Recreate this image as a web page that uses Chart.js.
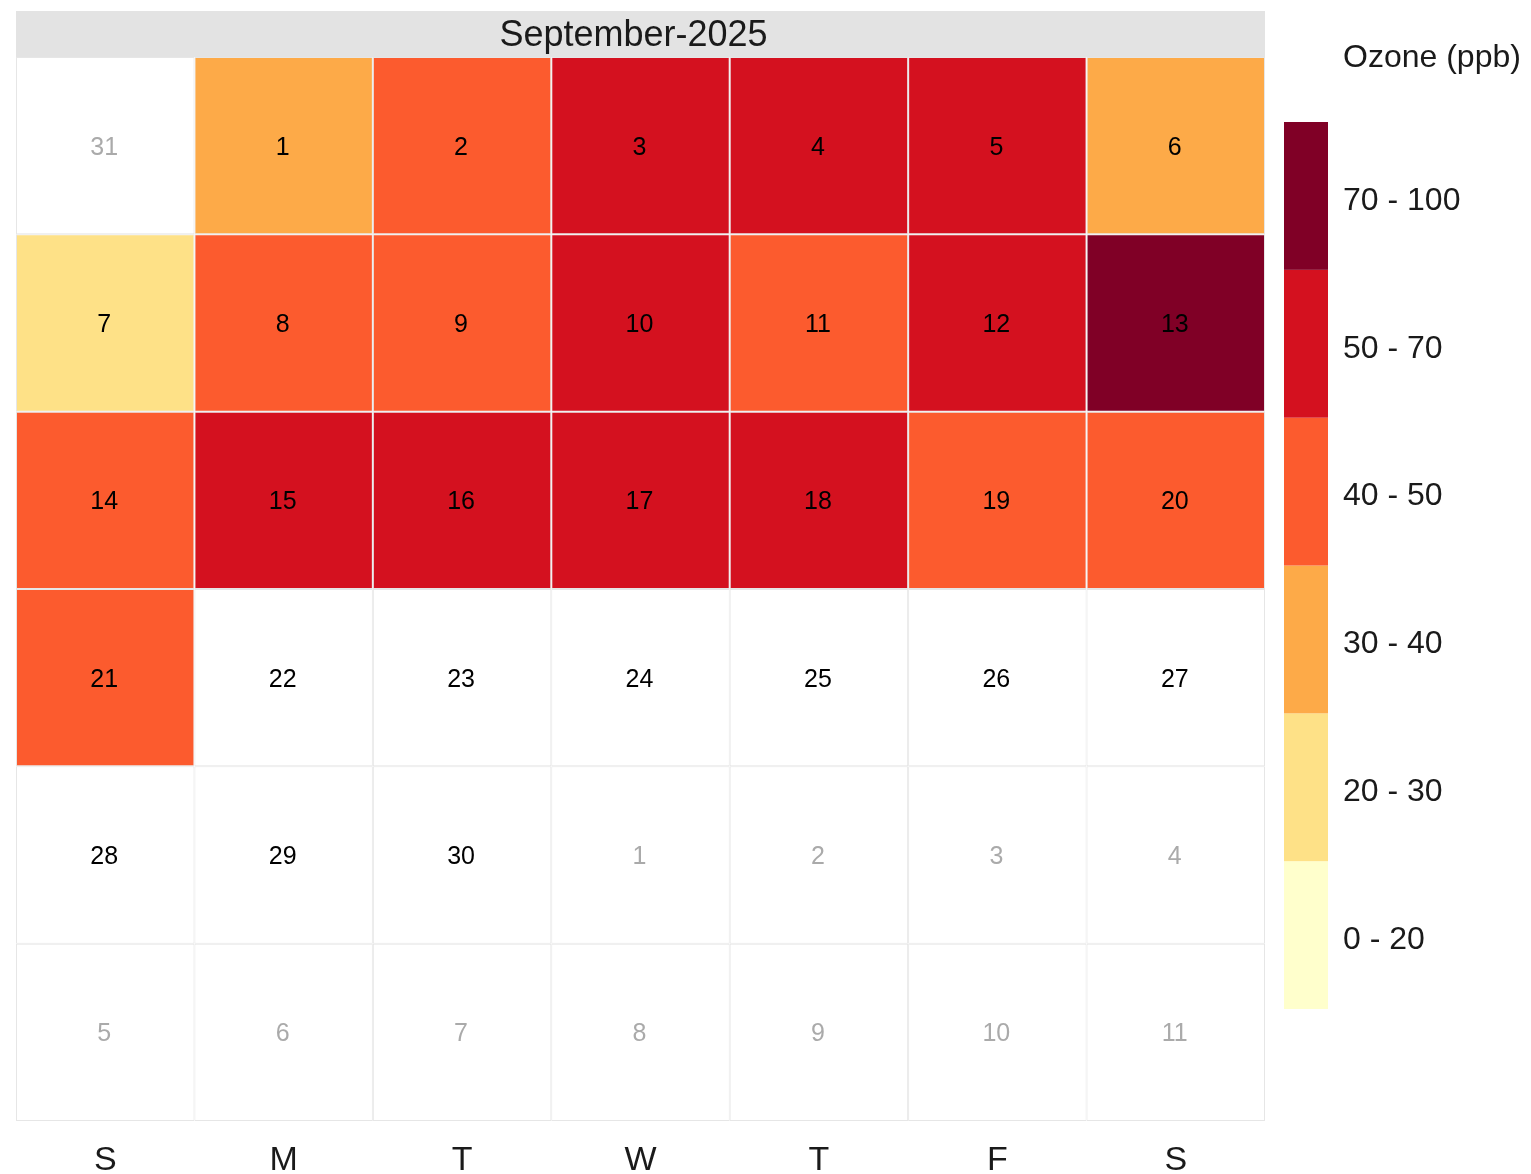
<!DOCTYPE html>
<html>
<head>
<meta charset="utf-8">
<title>Ozone calendar</title>
<script src="https://cdn.jsdelivr.net/npm/chart.js@4.4.1/dist/chart.umd.min.js"></script>
<style>
  html, body { margin: 0; padding: 0; background: #fff; }
</style>
</head>
<body>
<canvas id="cal" width="1531" height="1174"></canvas>
<script>
// ---------------- DATA ----------------
const monthTitle = "September-2025";
const weekdays = ["S", "M", "T", "W", "T", "F", "S"];
const firstWeekday = 1;      // 1 Sep 2025 is a Monday
const daysInMonth = 30;
const prevMonthDays = 31;    // August
const numWeeks = 6;

// daily ozone (ppb) for 1..30 Sep, null = no data
const ozone = [
  35, 45, 55, 56, 54, 36, 26,
  46, 44, 57, 47, 58, 74, 45,
  55, 56, 57, 55, 46, 44, 45,
  null, null, null, null, null, null, null, null, null
];

// colour classes
const binEdges = [0, 20, 30, 40, 50, 70, 100];
const binLabels = ["0 - 20", "20 - 30", "30 - 40", "40 - 50", "50 - 70", "70 - 100"];
const binColors = ["#FFFFCC", "#FEE187", "#FDAA48", "#FC5B2E", "#D4111F", "#800026"];

const FONT = '"Liberation Sans", Arial, sans-serif';

// ---------------- HELPERS ----------------
function colorFor(v) {
    if (v === null || v === undefined) return "#FFFFFF";
    for (let i = 0; i < binColors.length; i++) {
        if (v < binEdges[i + 1]) return binColors[i];
    }
    return binColors[binColors.length - 1];
}

// one dataset per calendar row (week)
const datasets = [];
for (let w = 0; w < numWeeks; w++) {
    const days = [], inMonth = [], colors = [];
    weekdays.forEach((_, d) => {
        const idx = w * 7 + d - firstWeekday;
        if (idx < 0) {
            days.push(prevMonthDays + idx + 1); inMonth.push(false); colors.push("#FFFFFF");
        } else if (idx >= daysInMonth) {
            days.push(idx - daysInMonth + 1); inMonth.push(false); colors.push("#FFFFFF");
        } else {
            days.push(idx + 1); inMonth.push(true); colors.push(colorFor(ozone[idx]));
        }
    });
    datasets.push({
        label: "week " + (w + 1),
        data: weekdays.map(() => [w, w + 1]),
        backgroundColor: colors,
        borderColor: "#E6E6E6",
        borderWidth: 1,
        borderSkipped: false,
        inflateAmount: 0,
        barPercentage: 1,
        categoryPercentage: 1,
        grouped: false,
        dayLabels: days,
        inMonth: inMonth
    });
}

// ---------------- PLUGINS ----------------
const stripPlugin = {
    id: "strip",
    beforeDraw(chart) {
        const { ctx, chartArea: a } = chart;
        ctx.save();
        ctx.fillStyle = "#E3E3E3";
        ctx.fillRect(a.left, a.top - 46, a.right - a.left, 46);
        ctx.fillStyle = "#1A1A1A";
        ctx.font = "36px " + FONT;
        ctx.textAlign = "center";
        ctx.textBaseline = "middle";
        ctx.fillText(monthTitle, (a.left + a.right) / 2 - 7, a.top - 21);
        ctx.restore();
    }
};

const dayLabelPlugin = {
    id: "dayLabels",
    afterDatasetsDraw(chart) {
        const ctx = chart.ctx;
        ctx.save();
        ctx.font = "25px " + FONT;
        ctx.textAlign = "center";
        ctx.textBaseline = "middle";
        chart.data.datasets.forEach((ds, i) => {
            chart.getDatasetMeta(i).data.forEach((bar, j) => {
                ctx.fillStyle = ds.inMonth[j] ? "#000000" : "#AAAAAA";
                ctx.fillText(ds.dayLabels[j], bar.x - 1, (bar.y + bar.base) / 2 + 2);
            });
        });
        ctx.restore();
    }
};

const scaleLegendPlugin = {
    id: "scaleLegend",
    afterDraw(chart) {
        const { ctx, chartArea: a } = chart;
        const x0 = a.right + 19, w = 44, top = 122, bottom = 1009;
        const h = (bottom - top) / binColors.length;
        ctx.save();
        ctx.font = "32px " + FONT;
        ctx.fillStyle = "#1A1A1A";
        ctx.textAlign = "left";
        ctx.textBaseline = "middle";
        ctx.fillText("Ozone (ppb)", x0 + 59, 58);
        for (let i = 0; i < binColors.length; i++) {
            const y = bottom - (i + 1) * h;
            ctx.fillStyle = binColors[i];
            ctx.fillRect(x0, y, w, h);
            ctx.fillStyle = "#1A1A1A";
            ctx.fillText(binLabels[i], x0 + 59, y + h / 2 + 5);
        }
        ctx.restore();
    }
};

// ---------------- CHART ----------------
new Chart(document.getElementById("cal"), {
    type: "bar",
    data: { labels: weekdays, datasets: datasets },
    options: {
        responsive: false,
        animation: false,
        layout: { padding: { left: 16, top: 57, right: 266, bottom: 0 } },
        plugins: {
            legend: { display: false },
            tooltip: { enabled: false },
            title: { display: false }
        },
        scales: {
            x: {
                grid: { display: false, drawTicks: false },
                border: { display: false },
                ticks: { color: "#1A1A1A", font: { size: 34, family: FONT }, padding: 19 },
                afterFit: (s) => { s.height = 53; }
            },
            y: { display: false, min: 0, max: numWeeks, reverse: true }
        }
    },
    plugins: [stripPlugin, dayLabelPlugin, scaleLegendPlugin]
});
</script>
</body>
</html>
